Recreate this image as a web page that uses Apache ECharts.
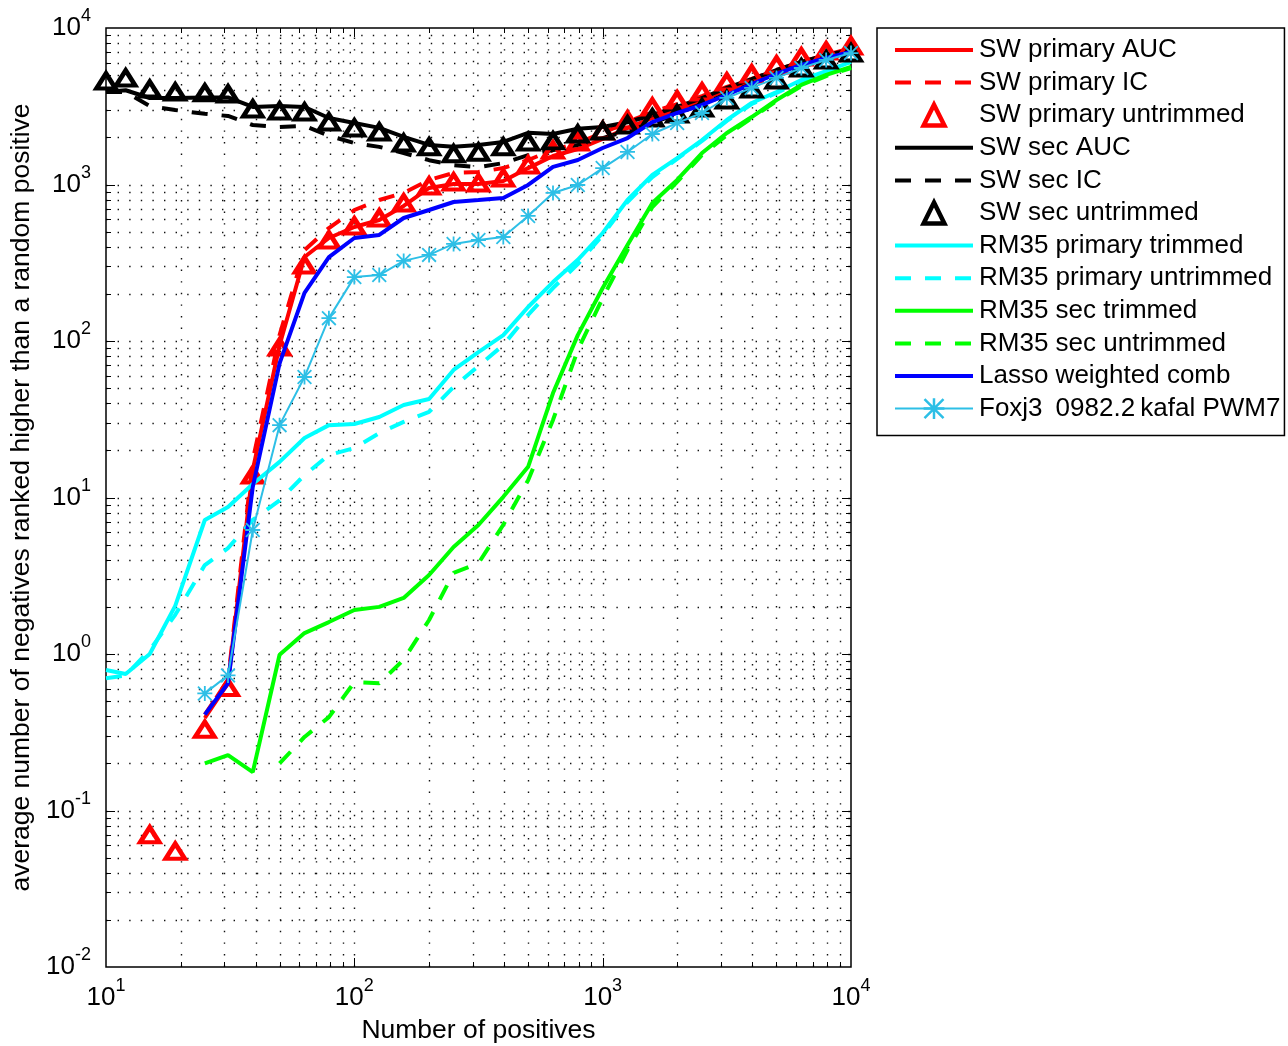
<!DOCTYPE html>
<html><head><meta charset="utf-8">
<script src="https://cdn.jsdelivr.net/npm/echarts@6/dist/echarts.min.js"></script>
<style>html,body{margin:0;padding:0;background:#fff}#c{width:1288px;height:1046px}</style>
</head><body><div id="c"></div>
<script>
// ---- data ----
const positives = [10,12,15,19,25,31,39,50,63,79,100,126,158,200,251,316,398,501,631,794,1000,1259,1585,1995,2512,3162,3981,5012,6310,7943,10000];
const swPrimaryAUC = [null,null,null,null,0.39,0.65,15,94,344,455,535,593,729,950,1008,1008,1052,1273,1520,1685,1953,2297,2660,2993,3467,4017,4520,5155,5885,6530,7300];
const swPrimaryIC = [null,null,null,null,0.41,0.68,17.3,109,381,527,687,796,883,1069,1184,1202,1273,1434,1660,1841,2133,2507,2904,3265,3673,4198,4724,5393,6070,6716,7450];
const swPrimaryUntrimmed = [null,null,0.070,0.055,0.33,0.61,13.9,91.6,306,442,543,611,762,977,1038,1023,1102,1333,1660,1870,2198,2584,3126,3467,3899,4520,5083,5808,6535,7131,7680];
const swSecAUC = [3900,4000,3570,3570,3600,3600,3130,3170,3130,2660,2470,2300,2015,1790,1740,1790,1870,2140,2100,2270,2330,2500,2780,3130,3570,4140,4720,5390,6070,6720,7240];
const swSecIC = [3900,3900,3170,2990,2830,2740,2400,2330,2370,2050,1840,1740,1590,1430,1330,1290,1370,1540,1660,1790,1980,2200,2470,2830,3280,3790,4390,4930,5630,6330,7040];
const swSecUntrimmed = [4590,4800,4070,3900,3850,3790,3040,2950,2910,2510,2300,2165,1840,1740,1570,1610,1740,1870,1900,2100,2200,2400,2660,2820,3080,3470,4070,4660,5550,6250,6920];
const rm35PrimaryTrimmed = [0.79,0.745,1.0,2.03,7.18,8.7,12.2,16.9,24,29,29.5,32.7,39,42.6,65.3,85,109,165,238,330,490,796,1151,1476,1923,2584,3319,3899,4656,5309,6070];
const rm35PrimaryUntrimmed = [0.70,0.73,1.06,1.78,3.7,4.75,7.2,9.6,13.9,18.7,20.7,25.8,30.4,35.2,50.8,69.2,94.3,147,218,310,475,773,1116,1456,1897,2547,3268,3846,4585,5236,5975];
const rm35SecTrimmed = [null,null,null,null,0.20,0.226,0.176,0.99,1.36,1.6,1.91,2.0,2.28,3.2,4.83,6.67,10.1,15.7,46.5,109,218,411,762,1069,1589,2133,2698,3467,4327,5012,5636];
const rm35SecUntrimmed = [null,null,null,null,null,null,null,0.20,0.295,0.395,0.66,0.65,0.92,1.65,3.3,3.8,6.7,12.9,31.3,87.5,188,381,718,1038,1542,2070,2660,3420,4258,4932,5550];
const lassoComb = [null,null,null,null,0.41,0.65,11.7,72,203,344,455,476,611,687,773,796,820,993,1295,1434,1711,1981,2507,2864,3222,3733,4388,5083,5808,6432,7032];
const foxj3 = [null,null,null,null,0.56,0.73,6.2,29,58.9,140,256,264,325,355,417,442,462,630,883,993,1273,1614,2103,2472,2864,3572,4140,4796,5550,6250,6918];

const xTickDecades = [1,2,3,4];
const yTickDecades = [-2,-1,0,1,2,3,4];

const names = ['SW primary AUC','SW primary IC','SW primary untrimmed','SW sec AUC','SW sec IC','SW sec untrimmed',
  'RM35 primary trimmed','RM35 primary untrimmed','RM35 sec trimmed','RM35 sec untrimmed','Lasso weighted comb',
  'Foxj3\u20020982.2\u2009kafal PWM7'];

const FONT = '"Liberation Sans", Arial, Helvetica, sans-serif';
const pair = arr => positives.map((x, i) => [x, arr[i]]);
const DASH = [16, 14];
const STAR = 'path://M8.8 0H11.2V20H8.8Z M0 8.8H20V11.2H0Z M1.7 0L20 18.3L18.3 20L0 1.7Z M18.3 0L20 1.7L1.7 20L0 18.3Z';

// grid lines (minor: 2..9 per decade, major: decades)
const gridItems = [];
for (const e of xTickDecades.slice(0, -1)) for (let m = 1; m <= 9; m++) {
  if (m === 1 && e === 1) continue;
  gridItems.push([m * Math.pow(10, e), 1, 0, m === 1 ? 1 : 0]);
}
for (const e of yTickDecades.slice(0, -1)) for (let m = 1; m <= 9; m++) {
  if (m === 1 && e === -2) continue;
  gridItems.push([100, +(m * Math.pow(10, e)).toPrecision(6), 1, m === 1 ? 1 : 0]);
}

function lineSeries(name, arr, color, dashed, z) {
  return { name, type: 'line', data: pair(arr), symbol: 'none', z,
    lineStyle: { color, width: 4, type: dashed ? DASH : 'solid' },
    itemStyle: { color: 'rgba(0,0,0,0)', borderWidth: 0 } };
}
function triSeries(name, arr, color, z) {
  return { name, type: 'line', data: pair(arr), symbol: 'triangle', symbolSize: [19, 15], showSymbol: true,
    clip: false, z, lineStyle: { width: 0, color },
    itemStyle: { color: 'rgba(0,0,0,0)', borderColor: color, borderWidth: 4.5, opacity: 1 } };
}

const labelRich = {
  b: { fontSize: 26, lineHeight: 41, fontFamily: FONT, color: '#000' },
  s: { fontSize: 18, lineHeight: 18, verticalAlign: 'top', fontFamily: FONT, color: '#000' }
};
const fmt = v => '{b|10}{s|' + Math.round(Math.log10(v)) + '}';

const option = {
  animation: false,
  backgroundColor: '#fff',
  grid: { left: 106, right: 437, top: 28, bottom: 79, show: true, borderColor: '#000', borderWidth: 1.5,
    backgroundColor: 'transparent', containLabel: false, outerBoundsMode: 'none' },
  xAxis: {
    type: 'log', logBase: 10, min: 10, max: 10000,
    axisLine: { show: false }, axisTick: { show: false }, splitLine: { show: false },
    axisLabel: { formatter: fmt, margin: 10, rich: labelRich },
    name: 'Number of positives', nameLocation: 'middle', nameGap: 50,
    nameTextStyle: { fontSize: 26.5, color: '#000', fontFamily: FONT }
  },
  yAxis: {
    type: 'log', logBase: 10, min: 0.01, max: 10000,
    axisLine: { show: false }, axisTick: { show: false }, splitLine: { show: false },
    axisLabel: { formatter: fmt, margin: 15, rich: labelRich },
    name: 'average number of negatives ranked higher than a random positive', nameLocation: 'middle', nameGap: 69, nameRotate: 90,
    nameTextStyle: { fontSize: 26.5, color: '#000', fontFamily: FONT }
  },
  legend: {
    orient: 'vertical', left: 877, top: 28, padding: [9, 4, 14, 16],
    itemWidth: 78, itemHeight: 26, itemGap: 6.6,
    borderColor: '#000', borderWidth: 1.5, backgroundColor: '#fff', selectedMode: false,
    textStyle: { fontSize: 26, lineHeight: 26, color: '#000', fontFamily: FONT, padding: [0, 0, 0, 1] },
    lineStyle: { width: 'inherit' },
    itemStyle: { color: 'inherit', borderColor: 'inherit', borderWidth: 'inherit' },
    data: names
  },
  series: [
    { type: 'custom', name: 'grid', silent: true, z: 0, data: gridItems, clip: false,
      renderItem(params, api) {
        const cs = params.coordSys;
        const kind = api.value(2), major = api.value(3);
        const tl = major ? 9 : 5;
        const tick = { stroke: '#000', lineWidth: 1 };
        const dot = { stroke: '#111', lineWidth: 1.4, lineDash: [1.4, 10.2] };
        if (kind === 0) {
          const x = Math.round(api.coord([api.value(0), 1])[0]) + 0.5;
          const y0 = cs.y, y1 = cs.y + cs.height;
          return { type: 'group', children: [
            { type: 'line', shape: { x1: x, y1: y1, x2: x, y2: y0 }, style: dot },
            { type: 'line', shape: { x1: x, y1: y1, x2: x, y2: y1 - tl }, style: tick },
            { type: 'line', shape: { x1: x, y1: y0, x2: x, y2: y0 + tl }, style: tick } ] };
        }
        const y = Math.round(api.coord([100, api.value(1)])[1]) + 0.5;
        const x0 = cs.x, x1 = cs.x + cs.width;
        return { type: 'group', children: [
          { type: 'line', shape: { x1: x0, y1: y, x2: x1, y2: y }, style: dot },
          { type: 'line', shape: { x1: x0, y1: y, x2: x0 + tl, y2: y }, style: tick },
          { type: 'line', shape: { x1: x1, y1: y, x2: x1 - tl, y2: y }, style: tick } ] };
      }
    },
    lineSeries(names[0], swPrimaryAUC, '#ff0000', false, 2),
    lineSeries(names[1], swPrimaryIC, '#ff0000', true, 2),
    triSeries(names[2], swPrimaryUntrimmed, '#ff0000', 3),
    lineSeries(names[3], swSecAUC, '#000000', false, 3),
    lineSeries(names[4], swSecIC, '#000000', true, 3),
    triSeries(names[5], swSecUntrimmed, '#000000', 4),
    lineSeries(names[6], rm35PrimaryTrimmed, '#00ffff', false, 4),
    lineSeries(names[7], rm35PrimaryUntrimmed, '#00ffff', true, 4),
    lineSeries(names[8], rm35SecTrimmed, '#00ff00', false, 4),
    lineSeries(names[9], rm35SecUntrimmed, '#00ff00', true, 4),
    lineSeries(names[10], lassoComb, '#0000ff', false, 5),
    { name: names[11], type: 'line', data: pair(foxj3), symbol: STAR, symbolSize: 15, showSymbol: true, z: 6,
      lineStyle: { color: '#2dbfe6', width: 2 }, itemStyle: { color: '#2dbfe6', borderWidth: 0 } }
  ]
};
const chart = echarts.init(document.getElementById('c'), null, { renderer: 'canvas' });
chart.setOption(option);
</script></body></html>
